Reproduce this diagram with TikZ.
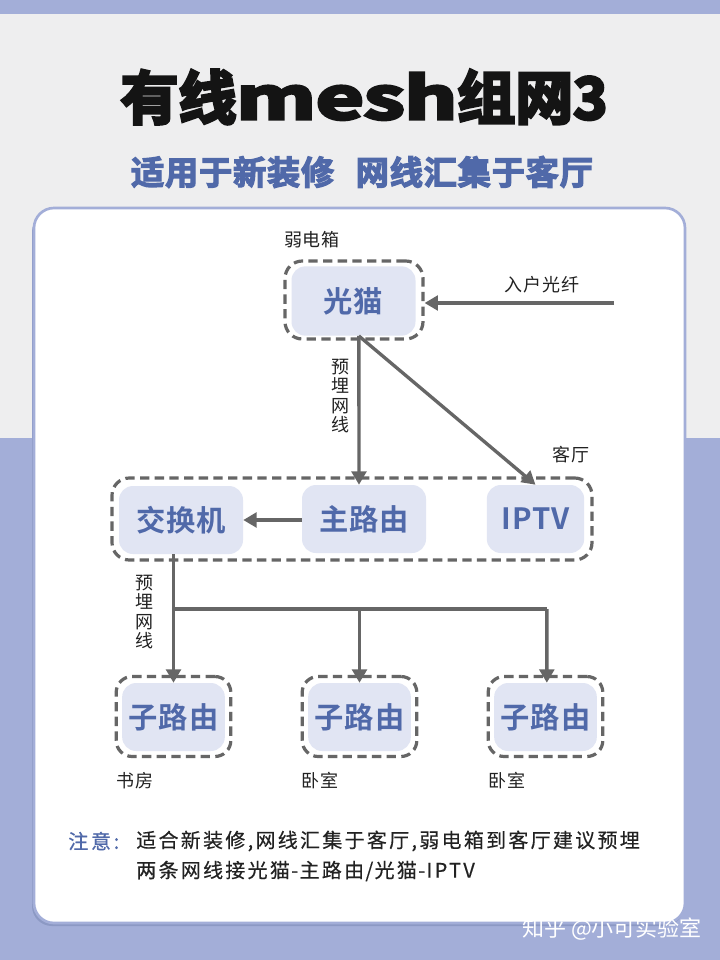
\documentclass[tikz,border=0pt]{standalone}
\usepackage{fontspec}
\usepackage{graphicx}
\usetikzlibrary{arrows.meta}
\setmainfont{Noto Sans CJK SC}
\newfontfamily\notefont[LetterSpace=11.4,FakeBold=0.35]{Noto Sans CJK SC}
\newfontfamily\notehead[LetterSpace=14,FakeBold=0.6]{Noto Sans CJK SC}
\newfontfamily\titlefont[FakeBold=5]{Noto Sans CJK SC Bold}
\newfontfamily\subfont[FakeBold=3.5,LetterSpace=2]{Noto Sans CJK SC Bold}
\newfontfamily\labfont[LetterSpace=5]{Noto Sans CJK SC}
\newfontfamily\boxfont[LetterSpace=3]{Noto Sans CJK SC Bold}
\definecolor{peri}{HTML}{A3AED8}
\definecolor{periD}{HTML}{8C99C4}
\definecolor{lightbg}{HTML}{EEEEEF}
\definecolor{boxblue}{HTML}{E1E5F3}
\definecolor{inkblue}{HTML}{5069A9}
\definecolor{wire}{HTML}{666666}
\definecolor{ink}{HTML}{222222}
\tikzset{
  fillbox/.style={fill=boxblue,rounded corners=10.5pt,text=inkblue,inner sep=0pt,
    font=\boxfont\fontsize{22}{26}\selectfont},
  dashbox/.style={draw=wire,line width=2.4pt,dash pattern=on 7pt off 4pt,rounded corners=13pt,inner sep=0pt},
  wirearrow/.style={draw=wire,line width=2.5pt,-{Triangle[length=10pt,width=11pt]}},
  wireline/.style={draw=wire,line width=2.5pt},
  lab/.style={text=ink,inner sep=0pt,font=\labfont\fontsize{13.5}{15}\selectfont},
  vlab/.style={text=ink,inner sep=0pt,align=center,font=\fontsize{13.5}{14.7}\selectfont},
  note/.style={text=ink,inner sep=0pt,anchor=west,font=\notefont\fontsize{15}{18}\selectfont}
}
\begin{document}
\begin{tikzpicture}[x=0.75pt,y=-0.75pt]
\useasboundingbox (0,0) rectangle (720,960);
% background
\fill[peri] (0,0) rectangle (720,960);
\fill[lightbg] (0,14) rectangle (720,438);
% card
\fill[periD,rounded corners=15pt] (32,212) rectangle (684,926);
\draw[peri,line width=2pt,fill=white,rounded corners=15pt] (34,208) rectangle (685,923);
% title
\node[inner sep=0pt,text=black!92] (title) at (364,97)
  {\titlefont\fontsize{43.5}{50}\selectfont 有线\scalebox{1.42}[1]{mesh}组网3};
\node[inner sep=0pt,text=inkblue] (subtitle) at (362,172)
  {\subfont\fontsize{25}{29}\selectfont 适用于新装修\hspace{16pt}网线汇集于客厅};
% dashed groups
\node[dashbox,minimum width=103.5pt,minimum height=58.5pt] (gmd) at (354,300) {};
\node[dashbox,minimum width=360pt,minimum height=61.5pt] (ktd) at (352,519) {};
\node[dashbox,minimum width=86pt,minimum height=60pt,rounded corners=12pt] (sd1) at (173.5,716.5) {};
\node[dashbox,minimum width=86pt,minimum height=60pt,rounded corners=12pt] (sd2) at (359.5,716.5) {};
\node[dashbox,minimum width=86pt,minimum height=60pt,rounded corners=12pt] (sd3) at (545.5,716.5) {};
% filled boxes
\node[fillbox,minimum width=93pt,minimum height=52pt] (gm) at (353.5,301) {光猫};
\node[fillbox,minimum width=93pt,minimum height=51pt] (jh) at (181,520) {交换机};
\node[fillbox,minimum width=93pt,minimum height=51pt] (zl) at (364,519) {主路由};
\node[fillbox,minimum width=73pt,minimum height=51pt] (iptv) at (535.5,519) {IPTV};
\node[fillbox,minimum width=77pt,minimum height=51pt] (s1) at (173.5,717) {子路由};
\node[fillbox,minimum width=77pt,minimum height=51pt] (s2) at (359.5,717) {子路由};
\node[fillbox,minimum width=77pt,minimum height=51pt] (s3) at (545.5,717) {子路由};
% connectors
\coordinate (fiber) at (614,303);
\coordinate (junction) at (173.5,609);
\coordinate (branchend) at (546.83,609);
\coordinate (branchmid) at (359.5,609);
\draw[wirearrow] (fiber) -- (fiber -| gmd.east);
\draw[wirearrow] ([xshift=4pt]gm.south) -- ([xshift=-3.75pt]zl.north);
\draw[wirearrow] ([xshift=4pt]gm.south) -- (iptv.north);
\draw[wirearrow] (zl.west |- jh.east) -- (jh.east);
\draw[wirearrow] ([xshift=-5.625pt]jh.south) -- (s1.north);
\draw[wireline] (junction) -- (branchend);
\draw[wirearrow] (branchmid) -- (s2.north);
\draw[wirearrow] (branchend) -- ([xshift=1pt]s3.north);
% labels
\node[lab] (l1) at (312,240) {弱电箱};
\node[lab] (l2) at (542,285) {入户光纤};
\node[lab] (l3) at (571,455) {客厅};
\node[vlab] (l4) at (340,396) {预\\埋\\网\\线};
\node[vlab] (l5) at (144,612) {预\\埋\\网\\线};
\node[lab] (l6) at (135,781) {书房};
\node[lab] (l7) at (320,781) {卧室};
\node[lab] (l8) at (507,781) {卧室};
% note
\node[note,text=inkblue,font=\notehead\fontsize{15}{18}\selectfont] (n0) at (68,841) {注意\hspace{2pt}:};
\node[note] (n1) at (136,841) {适合新装修,网线汇集于客厅,弱电箱到客厅建议预埋};
\node[note] (n2) at (136,871) {两条网线接光猫\hspace{1pt}-\hspace{1pt}主路由\hspace{1pt}/\hspace{1pt}光猫\hspace{1pt}-\hspace{1pt}IPTV};
% watermark
\node[inner sep=0pt,text=white,font=\fontsize{16.5}{19}\selectfont] (wm) at (612,929) {知乎 @小可实验室};
\end{tikzpicture}
\end{document}
